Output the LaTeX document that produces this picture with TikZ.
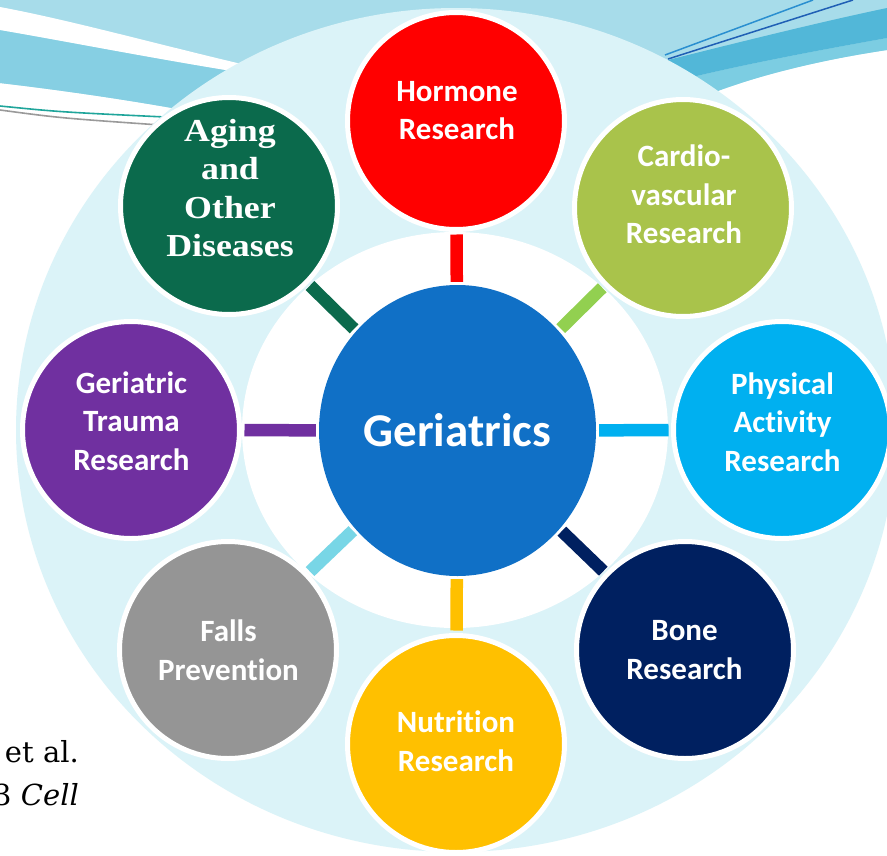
\documentclass[tikz,border=0pt]{standalone}
\usepackage{fontspec}
\setmainfont[Ligatures=NoCommon]{Carlito}
\newfontfamily\agingfont[FakeStretch=1.12]{Liberation Serif}
\newfontfamily\citefont{DejaVu Serif}
\usetikzlibrary{shapes.geometric}
\definecolor{swA}{HTML}{A7DCEA}
\definecolor{swB}{HTML}{86CFE3}
\definecolor{swC}{HTML}{52B7D8}
\definecolor{swD}{HTML}{7CCDE2}
\definecolor{ringcyan}{HTML}{DBF3F8}
\definecolor{gerblue}{HTML}{1070C6}
\definecolor{hormred}{HTML}{FF0000}
\definecolor{cardgreen}{HTML}{A9C34B}
\definecolor{cardstem}{HTML}{92D050}
\definecolor{physblue}{HTML}{00B0F0}
\definecolor{bonenavy}{HTML}{002060}
\definecolor{nutryellow}{HTML}{FFC000}
\definecolor{fallgray}{HTML}{959595}
\definecolor{fallstem}{HTML}{78D6E6}
\definecolor{traupurple}{HTML}{7030A0}
\definecolor{agegreen}{HTML}{0B6A4C}
\definecolor{lineteal}{HTML}{1FA59B}
\definecolor{linegray}{HTML}{9A9A9A}
\definecolor{lineblue}{HTML}{2A8FD0}
\definecolor{linenavy}{HTML}{1F5FB5}
\begin{document}
\begin{tikzpicture}[x=1pt,y=-1pt,
  bubble/.style={circle, minimum size=217pt, inner sep=0pt, draw=white, line width=5pt},
  stem/.style={line width=12.5pt, shorten <=3pt, shorten >=2.5pt},
  lbl/.style={text=white, font=\bfseries\fontsize{31}{38.5}\selectfont, align=center, inner sep=0pt},
  cite/.style={font=\citefont\fontsize{29}{36}\selectfont, inner sep=0pt, text=black}
]
\useasboundingbox (0,0) rectangle (887,855);
\clip (0,0) rectangle (887,855);
% page background
\fill[white] (0,0) rectangle (887,855);
% top swooshes
\fill[swA] (0,0) -- (887,0) -- (887,50) .. controls (820,60) and (760,75) .. (715,92)
  -- (600,200) -- (300,200) -- (200,113) .. controls (130,100) and (60,90) .. (0,83) -- cycle;
\fill[swB] (0,30) .. controls (70,42) and (150,58) .. (250,74) -- (250,140) -- (200,113)
  .. controls (130,100) and (60,90) .. (0,83) -- cycle;
\fill[white] (0,7) .. controls (70,20) and (160,45) .. (250,66) -- (250,74)
  .. controls (150,58) and (70,42) .. (0,30) -- cycle;
\fill[swD] (680,80) .. controls (740,65) and (820,50) .. (887,38) -- (887,50)
  .. controls (820,60) and (760,75) .. (715,92) -- cycle;
\fill[swC] (660,62) .. controls (740,42) and (820,22) .. (887,8) -- (887,38)
  .. controls (820,50) and (740,65) .. (680,80) -- cycle;
\draw[lineteal, line width=1.6pt] (0,106) .. controls (60,112) .. (165,117);
\draw[linegray, line width=1.6pt] (0,110) .. controls (60,118) .. (160,125);
\draw[lineblue, line width=1.5pt] (665,55) -- (813,0);
\draw[linenavy, line width=1.5pt] (668,59) -- (853,0);
% rings
\fill[ringcyan] (456,430) ellipse [x radius=440pt, y radius=422pt];
\fill[white] (455,430) ellipse [x radius=213pt, y radius=198pt];
% central node
\node[ellipse, minimum width=277pt, minimum height=291pt, inner sep=0pt, fill=gerblue,
  text=white, font=\bfseries\fontsize{47}{56}\selectfont] (geri) at (457.5,430.5) {Geriatrics};
% outer bubbles
\node[bubble, fill=hormred]    (horm) at (456,121) {};
\node[bubble, fill=cardgreen]  (card) at (683,208) {};
\node[bubble, fill=physblue]   (phys) at (782,430) {};
\node[bubble, fill=bonenavy]   (bone) at (685,650) {};
\node[bubble, fill=nutryellow] (nutr) at (456,744) {};
\node[bubble, fill=fallgray]   (fall) at (228,650) {};
\node[bubble, fill=traupurple] (trau) at (131,430) {};
\node[bubble, fill=agegreen]   (age)  at (229,206) {};
% stems
\draw[stem, hormred]    (geri) -- (horm);
\draw[stem, cardstem]   (geri) -- (card);
\draw[stem, physblue]   (geri) -- (phys);
\draw[stem, bonenavy]   (geri) -- (bone);
\draw[stem, nutryellow] (geri) -- (nutr);
\draw[stem, fallstem]   (geri) -- (fall);
\draw[stem, traupurple] (geri) -- (trau);
\draw[stem, agegreen]   (geri) -- (age);
% labels
\node[lbl] (hormt) at (457,110.5) {Hormone\\Research};
\node[lbl] (cardt) at (684,194.5) {Cardio-\\vascular\\Research};
\node[lbl] (physt) at (782.5,422) {Physical\\Activity\\Research};
\node[lbl] (bonet) at (684.5,650) {Bone\\Research};
\node[lbl] (nutrt) at (456,741) {Nutrition\\Research};
\node[lbl] (fallt) at (228.5,650) {Falls\\Prevention};
\node[lbl] (traut) at (131.5,421) {Geriatric\\Trauma\\Research};
\node[lbl, font=\agingfont\bfseries\fontsize{32}{38.5}\selectfont] (aget) at (230,188) {Aging\\and\\Other\\Diseases};
% citation fragment
\node[cite, anchor=base east] (cite1) at (79,762) {et al.};
\node[cite, anchor=base east] (cite2) at (79,805) {3 \textit{Cell}};
\end{tikzpicture}
\end{document}
